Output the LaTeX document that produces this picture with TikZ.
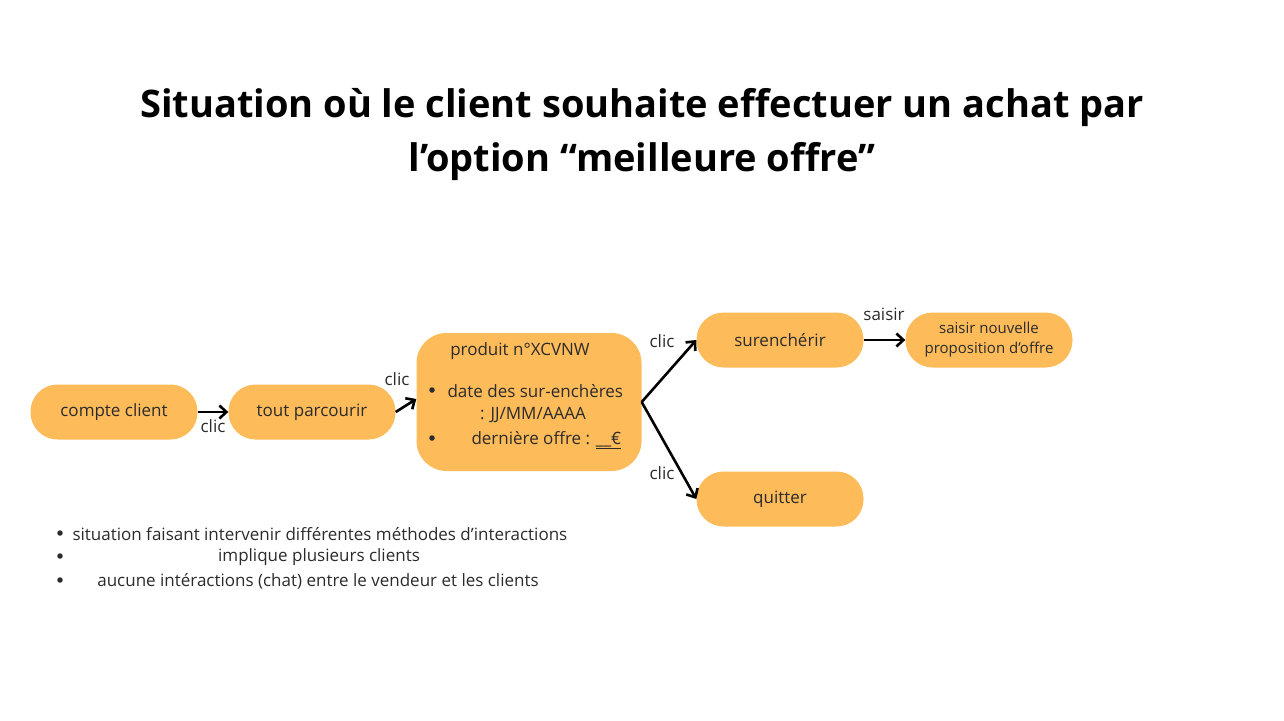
\documentclass[tikz,border=0pt]{standalone}
\usepackage{fontspec}
\setmainfont{Open Sans}
\usetikzlibrary{arrows.meta}
\definecolor{orangebox}{HTML}{FDBB5A}
\definecolor{texte}{HTML}{2B2B2B}
\tikzset{
  etape/.style={fill=orangebox,text=texte,minimum width=167pt,minimum height=55pt,rounded corners=27pt,align=center,font=\fontsize{17}{20}\selectfont},
  petit/.style={text=texte,font=\fontsize{17}{20}\selectfont},
  puce/.style={circle,fill=texte,inner sep=0pt,minimum size=5.5pt},
  lien/.style={-{Straight Barb[length=7pt,width=13pt]},line width=2.6pt,black}
}
\begin{document}
\begin{tikzpicture}[x=1pt,y=-1pt]
\useasboundingbox (0,0) rectangle (1284,720);
% titre
\node[align=center,font=\fontsize{38}{54}\selectfont\bfseries] (titre) at (642,135) {Situation où le client souhaite effectuer un achat par\\l’option “meilleure offre”};
% etapes
\node[etape] (compte) at (114,412) {compte client};
\node[etape] (tout) at (312,412) {tout parcourir};
\node[etape,minimum width=225pt,minimum height=138pt,rounded corners=30pt] (produit) at (529,402) {};
\node[etape] (surench) at (780,340) {surenchérir};
\node[etape] (quitter) at (780,499) {quitter};
\node[etape,font=\fontsize{15}{20}\selectfont] (saisie) at (989,340) {saisir nouvelle\\proposition d’offre};
% contenu du produit
\node[petit] (pnum) at (520,351) {produit n°XCVNW};
\node[puce] (puce1) at (432,390) {};
\node[petit,anchor=west] (date) at (444,391) {date des sur-enchères};
\node[petit] (format) at (533,415) {: JJ/MM/AAAA};
\node[puce] (puce2) at (432,438) {};
\node[petit,anchor=west] (offre) at (468,440) {dernière offre : \underline{\_\_€}};
% liens
\draw[lien] (compte) -- (tout) node[petit,midway,below=3pt] (clic1) {clic};
\draw[lien] (tout.east) -- ([yshift=3pt]produit.west);
\node[petit] (clic2) at (397,379) {clic};
\draw[lien] (produit.east) -- (surench.west);
\draw[lien] (produit.east) -- (quitter.west);
\node[petit] (clic3) at (662,341) {clic};
\node[petit] (clic4) at (662,473) {clic};
\draw[lien] (surench) -- (saisie);
\node[petit] (saisir) at (884,314) {saisir};
% remarques
\node[puce] (r1) at (60,533) {};
\node[petit,anchor=west] (rem1) at (69,534) {situation faisant intervenir différentes méthodes d’interactions};
\node[puce] (r2) at (60,556) {};
\node[petit] (rem2) at (319,557) {implique plusieurs clients};
\node[puce] (r3) at (60,580) {};
\node[petit] (rem3) at (318,581) {aucune intéractions (chat) entre le vendeur et les clients};
\end{tikzpicture}
\end{document}
